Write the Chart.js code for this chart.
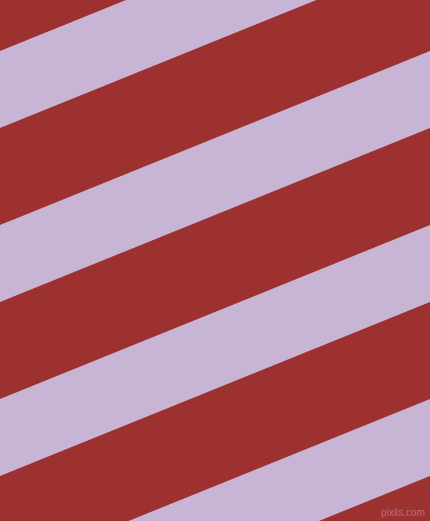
<!DOCTYPE html>
<html>
<head>
<meta charset="utf-8">
<script src="https://cdn.jsdelivr.net/npm/chart.js@4"></script>
<style>
  html, body { margin: 0; padding: 0; background: #9d3130; }
  #wrap { position: relative; width: 430px; height: 521px; }
  #stripes { display: block; background: #9d3130; }
  #mark {
    position: absolute; right: 5px; bottom: 3px;
    font: 10px "Liberation Sans", sans-serif;
    line-height: 10px;
    color: rgba(205, 175, 205, 0.5);
  }
</style>
</head>
<body>
<div id="wrap">
  <canvas id="stripes" width="430" height="521"></canvas>
  <div id="mark">pixlis.com</div>
</div>
<script>
// x của hai mép ảnh
const edgeX = [0, 430];
// các dải tím: y của cạnh trên / cạnh dưới tại mép trái và mép phải
const bandTopLeft = [51, 225, 399, 573];
const bandTopRight = [-123, 51, 225, 399];
const bandBottomLeft = [128, 302, 476, 650];
const bandBottomRight = [-46, 128, 302, 476];

const red = '#9d3130';
const lavender = '#c8b5d6';

const datasets = [];
bandTopLeft.forEach((top, i) => {
    // cạnh trên, tô xuống cạnh dưới
    datasets.push({
        data: [{ x: edgeX[0], y: top }, { x: edgeX[1], y: bandTopRight[i] }],
        borderWidth: 0,
        pointRadius: 0,
        backgroundColor: lavender,
        fill: '+1'
    });
    datasets.push({
        data: [{ x: edgeX[0], y: bandBottomLeft[i] }, { x: edgeX[1], y: bandBottomRight[i] }],
        borderWidth: 0,
        pointRadius: 0,
        fill: false
    });
});

const ctx = document.getElementById('stripes').getContext('2d');
new Chart(ctx, {
    type: 'line',
    data: { datasets: datasets },
    options: {
        responsive: false,
        animation: false,
        devicePixelRatio: 1,
        layout: { padding: 0 },
        plugins: { legend: { display: false }, tooltip: { enabled: false } },
        scales: {
            x: { type: 'linear', min: 0, max: 430, display: false },
            y: { type: 'linear', min: 0, max: 521, reverse: true, display: false }
        }
    }
});
</script>
</body>
</html>
